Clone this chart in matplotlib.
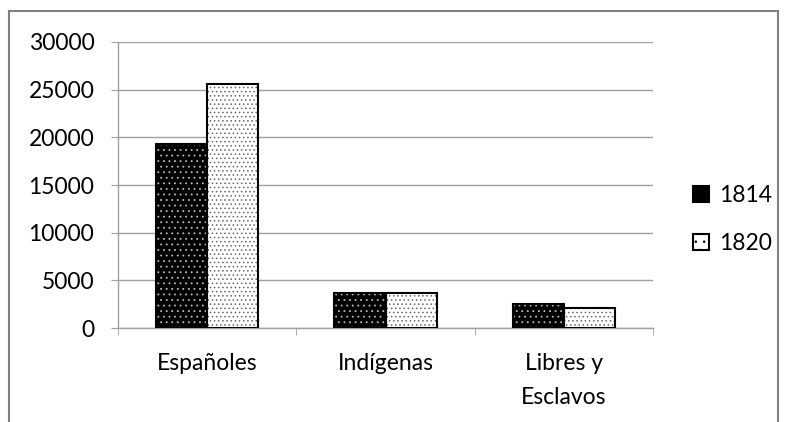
import numpy as np
import matplotlib.pyplot as plt
from matplotlib.patches import Rectangle

plt.rcParams["font.family"] = ["Lato", "DejaVu Sans"]
plt.rcParams["hatch.linewidth"] = 0.6

categories = ["Españoles", "Indígenas", "Libres y\nEsclavos"]
series_names = ["1814", "1820"]
values_1814 = [19300, 3700, 2500]
values_1820 = [25600, 3700, 2100]
yticks = [0, 5000, 10000, 15000, 20000, 25000, 30000]

fig = plt.figure(figsize=(7.86, 4.22), dpi=100)
ax = fig.add_axes([0.150, 0.2227, 0.681, 0.6778])

# outer chart frame
fig.patches.append(Rectangle((0.0115, -0.05), 0.978, 1.024,
                             transform=fig.transFigure, fill=False,
                             edgecolor="#808080", linewidth=1.5))

x = np.arange(len(categories))
width = 0.287
grid_gray = "#a0a0a0"
fs = 16.5

# 1814: black with light dots
ax.bar(x - width / 2, values_1814, width, color="black", edgecolor="#bbbbbb",
       hatch="...", linewidth=0, zorder=2)
ax.bar(x - width / 2, values_1814, width, fill=False, edgecolor="black",
       linewidth=1.5, zorder=3)
# 1820: white with dark dots
ax.bar(x + width / 2, values_1820, width, color="white", edgecolor="#666666",
       hatch="....", linewidth=0, zorder=2)
ax.bar(x + width / 2, values_1820, width, fill=False, edgecolor="black",
       linewidth=1.5, zorder=3)

ax.set_xlim(-0.5, len(categories) - 0.5)
ax.set_ylim(0, 30000)
ax.set_yticks(yticks)
ax.set_yticklabels([str(v) for v in yticks], fontsize=fs)
ax.yaxis.grid(True, color=grid_gray, linewidth=1)
ax.set_axisbelow(True)

ax.set_xticks(x)
ax.set_xticklabels(categories, fontsize=fs, linespacing=1.75)
ax.set_xticks(np.arange(len(categories) + 1) - 0.5, minor=True)
ax.tick_params(axis="x", which="major", length=0, pad=18)
ax.tick_params(axis="x", which="minor", length=5, color=grid_gray)
ax.tick_params(axis="y", length=5, color=grid_gray, pad=12)

for s in ["top", "right"]:
    ax.spines[s].set_visible(False)
for s in ["left", "bottom"]:
    ax.spines[s].set_color(grid_gray)
    ax.spines[s].set_linewidth(1)

# legend
h1 = Rectangle((0, 0), 1, 1, facecolor="black", edgecolor="black", linewidth=1.5)
h2 = Rectangle((0, 0), 1, 1, facecolor="white", edgecolor="black", linewidth=1.5,
               hatch="..")
fig.legend([h1, h2], series_names, loc="center left",
           bbox_to_anchor=(0.855, 0.48), frameon=False, fontsize=fs,
           handlelength=0.7, handleheight=0.7, handletextpad=0.45,
           labelspacing=1.15)

fig.savefig("out.png", dpi=100, facecolor="white")
